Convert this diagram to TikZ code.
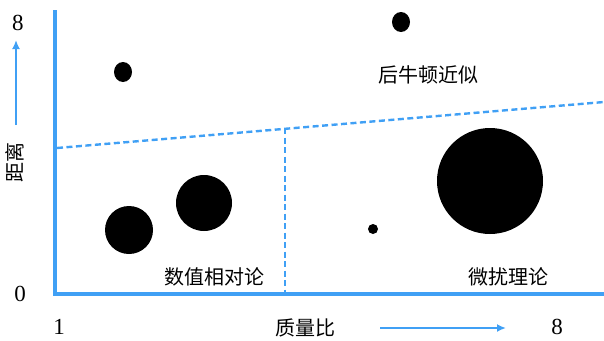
\documentclass[tikz,border=0pt]{standalone}
\usepackage{fontspec}
\usetikzlibrary{arrows.meta}
\newfontfamily\cjk{Noto Sans CJK SC}
\newfontfamily\numfont{Liberation Serif}
\definecolor{axisblue}{RGB}{64,160,245}
\begin{document}
\begin{tikzpicture}[x=1pt,y=-1pt,
  axisline/.style={axisblue,line width=4pt},
  dashline/.style={axisblue,line width=2.4pt,dash pattern=on 6pt off 3.5pt},
  dirarrow/.style={axisblue,line width=2.2pt,-{Latex[length=9pt,width=8pt]}},
  ball/.style={fill=black},
  cjklabel/.style={font=\cjk\fontsize{20}{20}\selectfont,inner sep=0pt},
  numlabel/.style={font=\numfont\fontsize{23}{23}\selectfont,inner sep=0pt}]
\useasboundingbox (0,0) rectangle (604,340);
\coordinate (top) at (55,10);
\coordinate (origin) at (55,294);
\coordinate (right) at (604,294);
\draw[axisline] (top) -- (origin) -- (right);
\coordinate (dl) at (57,148);
\coordinate (dr) at (604,102);
\coordinate (vt) at (285,128);
\coordinate (vb) at (285,292);
\draw[dashline] (dl) -- (dr);
\draw[dashline] (vt) -- (vb);
\fill[ball] (123,72) ellipse (9 and 10);
\fill[ball] (401,22) ellipse (9 and 10);
\fill[ball] (129,230) circle (24);
\fill[ball] (204,203) circle (28);
\fill[ball] (373,229) circle (5);
\fill[ball] (490,181) circle (53);
\node[numlabel] (y8) at (18,23) {8};
\node[numlabel] (y0) at (20,294) {0};
\node[numlabel] (x1) at (59,327) {1};
\node[numlabel] (x8) at (557,327) {8};
\node[cjklabel,rotate=90] (ylab) at (15,162) {距离};
\coordinate (ya0) at (16,125);
\coordinate (ya1) at (16,40);
\draw[dirarrow] (ya0) -- (ya1);
\node[cjklabel] (xlab) at (305,328) {质量比};
\coordinate (xa0) at (380,328);
\coordinate (xa1) at (506,328);
\draw[dirarrow] (xa0) -- (xa1);
\node[cjklabel] (pn) at (428,75) {后牛顿近似};
\node[cjklabel] (nr) at (214,277) {数值相对论};
\node[cjklabel] (pt) at (508,277) {微扰理论};
\end{tikzpicture}
\end{document}
